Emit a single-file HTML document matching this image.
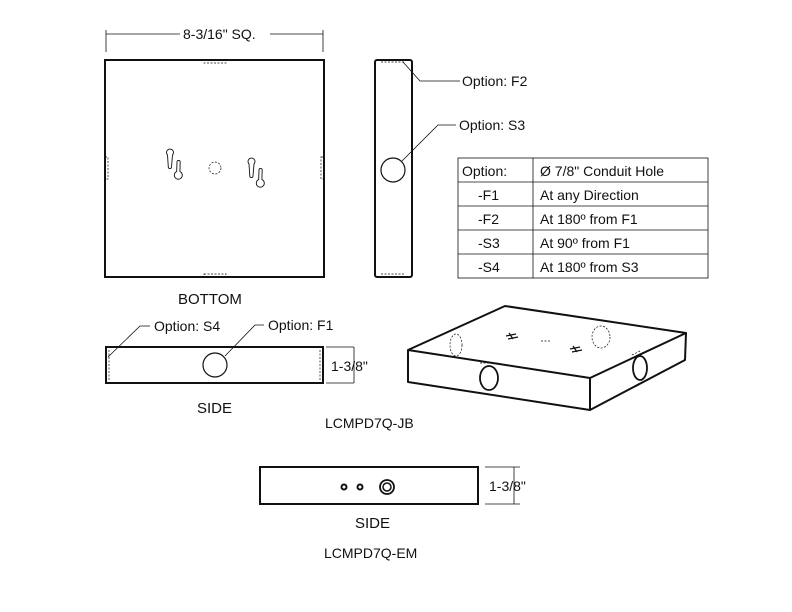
<!DOCTYPE html>
<html><head><style>body{margin:0;background:#fff}svg{display:block}text{font-family:"Liberation Sans",sans-serif;fill:#111}</style></head><body>
<svg width="792" height="612" viewBox="0 0 792 612" xmlns="http://www.w3.org/2000/svg">
<g fill="none" stroke="#111">
<line x1="106" y1="30" x2="106" y2="52" stroke-width="0.8"/>
<line x1="323" y1="30" x2="323" y2="52" stroke-width="0.8"/>
<line x1="106" y1="34" x2="180" y2="34" stroke-width="0.8"/>
<line x1="270" y1="34" x2="323" y2="34" stroke-width="0.8"/>
<rect x="105" y="60" width="219" height="217" stroke-width="2"/>
<g stroke-width="0.7" stroke-dasharray="2,1.5">
<rect x="204" y="60" width="22" height="3"/><rect x="204" y="274" width="22" height="3"/>
<rect x="105" y="157" width="3" height="22"/><rect x="321" y="157" width="3" height="22"/>
<circle cx="215" cy="168" r="6"/>
</g>
<g stroke-width="0.9">
<path d="M167.5 155 a3.5 3.5 0 1 1 5 0 l-1 12 a1.6 1.6 0 0 1 -3.2 0 z"/>
<path d="M177 162 a1.6 1.6 0 0 1 3.2 0 l-0.3 9.5 a4 4 0 1 1 -3.2 0 z"/>
<path d="M249 164 a3.5 3.5 0 1 1 5 0 l-1 12 a1.6 1.6 0 0 1 -3.2 0 z"/>
<path d="M259 170 a1.6 1.6 0 0 1 3.2 0 l-0.3 9.5 a4 4 0 1 1 -3.2 0 z"/>
</g>
<rect x="375" y="60" width="37" height="217" rx="2" stroke-width="2"/>
<g stroke-width="0.7" stroke-dasharray="2,1.5"><line x1="381" y1="62" x2="405" y2="62"/><line x1="381" y1="274" x2="405" y2="274"/></g>
<circle cx="393" cy="170" r="12" stroke-width="1.2"/>
<path d="M403 62 L420 81 L460 81" stroke-width="0.8"/>
<path d="M402 161 L438 125 L456 125" stroke-width="0.8"/>
<g stroke-width="0.8">
<rect x="458" y="158" width="250" height="120"/>
<line x1="458" y1="182" x2="708" y2="182"/><line x1="458" y1="206" x2="708" y2="206"/>
<line x1="458" y1="230" x2="708" y2="230"/><line x1="458" y1="254" x2="708" y2="254"/>
<line x1="533" y1="158" x2="533" y2="278"/>
</g>
<rect x="106" y="347" width="217" height="36" stroke-width="2"/>
<g stroke-width="0.7" stroke-dasharray="2,1.5"><line x1="109" y1="350" x2="109" y2="381"/><line x1="320" y1="350" x2="320" y2="381"/></g>
<circle cx="215" cy="365" r="12" stroke-width="1.2"/>
<path d="M108 357 L140 326 L150 326" stroke-width="0.8"/>
<path d="M225 356 L255 325 L264 325" stroke-width="0.8"/>
<g stroke-width="0.8"><line x1="326" y1="347" x2="354" y2="347"/><line x1="326" y1="383" x2="354" y2="383"/><line x1="354" y1="347" x2="354" y2="383"/></g>
<path d="M408 350 L505 306 L686 333 L590 378 Z M408 350 L408 382 L590 410 L590 378 M590 410 L685 360 L686 333" stroke-width="2" stroke-linejoin="round"/>
<ellipse cx="489" cy="378" rx="9" ry="12" stroke-width="1.8"/>
<ellipse cx="640" cy="368" rx="7" ry="12" stroke-width="1.8"/>
<g stroke-width="0.7" stroke-dasharray="2,1.5">
<ellipse cx="456" cy="345" rx="6" ry="11"/><ellipse cx="601" cy="337" rx="9" ry="11"/>
<line x1="480" y1="363" x2="498" y2="363"/><line x1="541" y1="341" x2="550" y2="341"/><line x1="632" y1="355" x2="640" y2="351"/>
</g>
<g stroke-width="1.2"><path d="M506 336 l10 -2 M508 339 l10 -2 M509 333 l4 6"/><path d="M570 349 l10 -2 M572 352 l10 -2 M573 346 l4 6"/></g>
<rect x="260" y="467" width="218" height="37" stroke-width="2"/>
<circle cx="344" cy="487" r="2.5" stroke-width="2"/><circle cx="360" cy="487" r="2.5" stroke-width="2"/>
<circle cx="387" cy="487" r="7" stroke-width="1.8"/><circle cx="387" cy="487" r="4" stroke-width="1.5"/>
<g stroke-width="0.8"><line x1="485" y1="467" x2="520" y2="467"/><line x1="485" y1="504" x2="520" y2="504"/><line x1="514" y1="467" x2="514" y2="504"/></g>
</g>
<g font-size="14">
<text x="183" y="39">8-3/16" SQ.</text>
<text x="462" y="86">Option: F2</text>
<text x="459" y="130">Option: S3</text>
<text x="462" y="176">Option:</text><text x="540" y="176">Ø 7/8" Conduit Hole</text>
<text x="478" y="200">-F1</text><text x="540" y="200">At any Direction</text>
<text x="478" y="224">-F2</text><text x="540" y="224">At 180º from F1</text>
<text x="478" y="248">-S3</text><text x="540" y="248">At 90º from F1</text>
<text x="478" y="272">-S4</text><text x="540" y="272">At 180º from S3</text>
<text x="178" y="304" font-size="15">BOTTOM</text>
<text x="154" y="331">Option: S4</text>
<text x="268" y="330">Option: F1</text>
<text x="331" y="371">1-3/8"</text>
<text x="197" y="413" font-size="15">SIDE</text>
<text x="325" y="428">LCMPD7Q-JB</text>
<text x="489" y="491">1-3/8"</text>
<text x="355" y="528" font-size="15">SIDE</text>
<text x="324" y="558">LCMPD7Q-EM</text>
</g>
</svg>
</body></html>
